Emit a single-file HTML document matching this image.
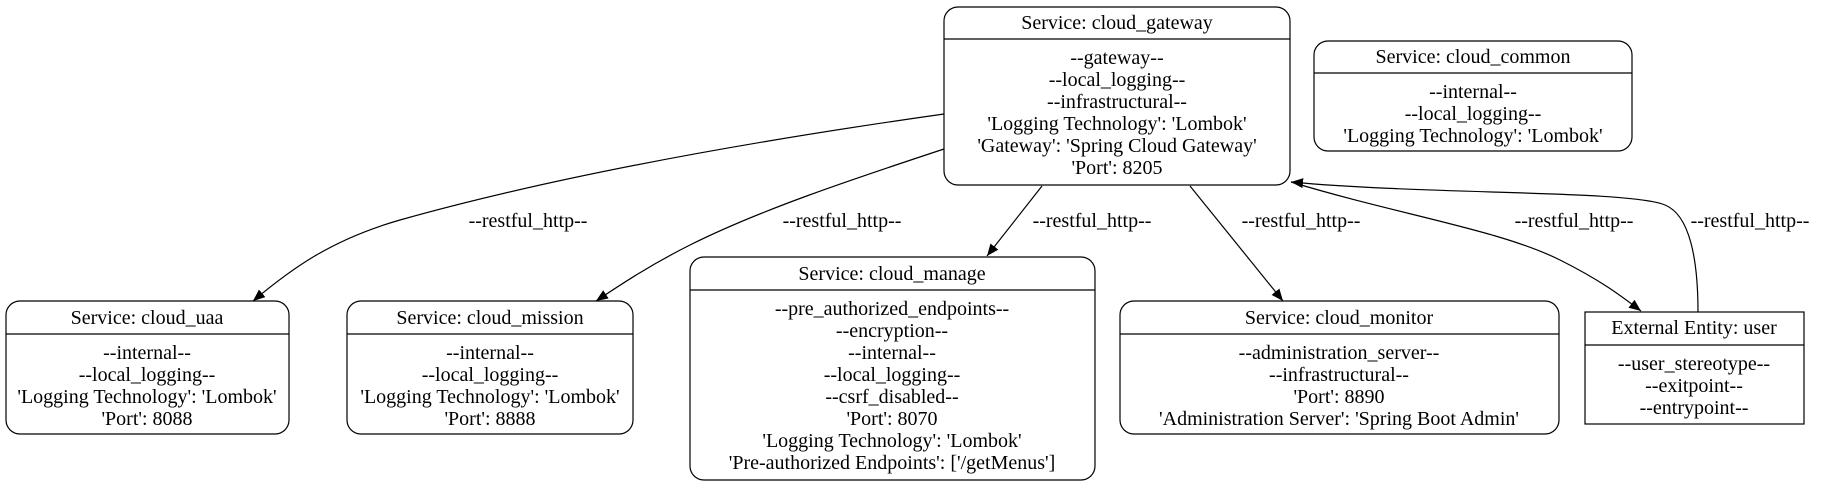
<!DOCTYPE html>
<html><head><meta charset="utf-8"><style>
html,body{margin:0;padding:0;background:#fff;}
svg{display:block;}
text{font-family:"Liberation Serif",serif;font-size:20px;fill:#000;}
</style></head><body>
<svg width="1821" height="485" viewBox="0 0 1821 485" xmlns="http://www.w3.org/2000/svg">
<defs>
<marker id="a" viewBox="0 0 12 10" refX="12" refY="5" markerWidth="12" markerHeight="10" markerUnits="userSpaceOnUse" orient="auto">
<path d="M0,0 L12,5 L0,10 z" fill="#000"/>
</marker>
</defs>
<g fill="none" stroke="#000" stroke-width="1.2">
<rect x="944" y="7" width="346" height="178" rx="14"/>
<line x1="944" y1="39" x2="1290" y2="39"/>
<rect x="1314" y="41" width="318" height="110" rx="14"/>
<line x1="1314" y1="73" x2="1632" y2="73"/>
<rect x="6" y="301" width="283" height="133" rx="14"/>
<line x1="6" y1="334" x2="289" y2="334"/>
<rect x="347" y="301" width="286" height="133" rx="14"/>
<line x1="347" y1="334" x2="633" y2="334"/>
<rect x="690" y="257" width="405" height="223" rx="14"/>
<line x1="690" y1="290" x2="1095" y2="290"/>
<rect x="1120" y="301" width="439" height="133" rx="14"/>
<line x1="1120" y1="334" x2="1559" y2="334"/>
<rect x="1585" y="312" width="219" height="112"/>
<line x1="1585" y1="345" x2="1804" y2="345"/>
<path d="M944,114 C760,140 560,175 400,220 C330,240 290,270 253,301" marker-end="url(#a)"/>
<path d="M944,149 C850,180 760,210 690,245 C650,265 620,285 596,301" marker-end="url(#a)"/>
<path d="M1042,186 L987,256" marker-end="url(#a)"/>
<path d="M1190,186 L1283,301" marker-end="url(#a)"/>
<path d="M1291,182 C1400,215 1500,230 1560,260 C1600,280 1620,295 1641,311" marker-end="url(#a)"/>
<path d="M1698,312 C1698,260 1690,215 1665,205 C1630,190 1430,195 1291,182" marker-end="url(#a)"/>
</g>
<g text-anchor="middle" dominant-baseline="central">
<text x="1117" y="23">Service: cloud_gateway</text>
<text x="1117" y="58">--gateway--</text>
<text x="1117" y="80">--local_logging--</text>
<text x="1117" y="102">--infrastructural--</text>
<text x="1117" y="124">'Logging Technology': 'Lombok'</text>
<text x="1117" y="146">'Gateway': 'Spring Cloud Gateway'</text>
<text x="1117" y="168">'Port': 8205</text>

<text x="1473" y="57">Service: cloud_common</text>
<text x="1473" y="92">--internal--</text>
<text x="1473" y="114">--local_logging--</text>
<text x="1473" y="136">'Logging Technology': 'Lombok'</text>

<text x="147" y="318">Service: cloud_uaa</text>
<text x="147" y="353">--internal--</text>
<text x="147" y="375">--local_logging--</text>
<text x="147" y="397">'Logging Technology': 'Lombok'</text>
<text x="147" y="419">'Port': 8088</text>

<text x="490" y="318">Service: cloud_mission</text>
<text x="490" y="353">--internal--</text>
<text x="490" y="375">--local_logging--</text>
<text x="490" y="397">'Logging Technology': 'Lombok'</text>
<text x="490" y="419">'Port': 8888</text>

<text x="892" y="274">Service: cloud_manage</text>
<text x="892" y="309">--pre_authorized_endpoints--</text>
<text x="892" y="331">--encryption--</text>
<text x="892" y="353">--internal--</text>
<text x="892" y="375">--local_logging--</text>
<text x="892" y="397">--csrf_disabled--</text>
<text x="892" y="419">'Port': 8070</text>
<text x="892" y="441">'Logging Technology': 'Lombok'</text>
<text x="892" y="463">'Pre-authorized Endpoints': ['/getMenus']</text>

<text x="1339" y="318">Service: cloud_monitor</text>
<text x="1339" y="353">--administration_server--</text>
<text x="1339" y="375">--infrastructural--</text>
<text x="1339" y="397">'Port': 8890</text>
<text x="1339" y="419">'Administration Server': 'Spring Boot Admin'</text>

<text x="1694" y="328">External Entity: user</text>
<text x="1694" y="364">--user_stereotype--</text>
<text x="1694" y="386">--exitpoint--</text>
<text x="1694" y="408">--entrypoint--</text>

<text x="528" y="221">--restful_http--</text>
<text x="842" y="221">--restful_http--</text>
<text x="1092" y="221">--restful_http--</text>
<text x="1301" y="221">--restful_http--</text>
<text x="1574" y="221">--restful_http--</text>
<text x="1750" y="221">--restful_http--</text>
</g>
</svg>
</body></html>
